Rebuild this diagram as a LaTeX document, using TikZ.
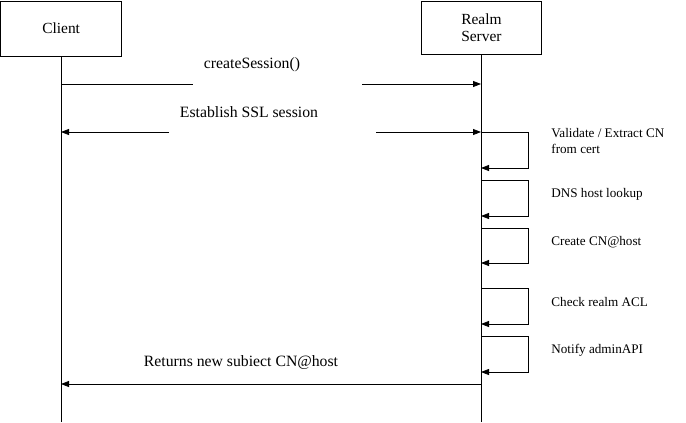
\documentclass[tikz,border=0pt]{standalone}
\usepackage{fontspec}
\setmainfont{Liberation Serif}
\usetikzlibrary{arrows.meta}

\begin{document}
\begin{tikzpicture}[x=1bp, y=-1bp, line width=0.8bp,
        node box/.style = {rectangle, draw, inner sep=0pt, anchor=north west, align=center, font=\fontsize{15.5}{17}\selectfont},
        msg line/.style = {-{Triangle[length=8bp, width=6bp]}},
        msg label/.style = {font=\fontsize{15.8}{18}\selectfont},
        step label/.style = {anchor=west, align=left, inner sep=0pt, font=\fontsize{13.2}{16}\selectfont},
        ]
        \useasboundingbox (0,0) rectangle (686,422);

        % Lifeline heads
        \node[node box, minimum width=120.5bp, minimum height=55.5bp] (client) at (0.5,0.5) {Client};
        \node[node box, minimum width=120bp, minimum height=53.5bp] (realm) at (421,0.5) {Realm\\Server};

        % Lifelines
        \coordinate (client end) at (61,422);
        \coordinate (realm end) at (481,422);
        \draw (client.south -| client end) -- (client end);
        \draw (realm.south -| realm end) -- (realm end);

        % createSession()
        \coordinate (C1) at (61,84);
        \coordinate (G1a) at (193,84);
        \coordinate (G1b) at (362,84);
        \coordinate (R1) at (481,84);
        \draw (C1) -- (G1a);
        \draw[msg line] (G1b) -- (R1);
        \node[msg label] (L1) at (252,65) {createSession()};

        % Establish SSL session
        \coordinate (C2) at (61,132);
        \coordinate (G2a) at (169,132);
        \coordinate (G2b) at (376,132);
        \coordinate (R2) at (481,132);
        \draw[msg line] (G2a) -- (C2);
        \draw[msg line] (G2b) -- (R2);
        \node[msg label] (L2) at (249,112) {Establish SSL session};

        % Self calls on the server
        \coordinate (S1a) at (481,132);
        \coordinate (S1b) at (481,168);
        \coordinate (S2a) at (481,180);
        \coordinate (S2b) at (481,216);
        \coordinate (S3a) at (481,228);
        \coordinate (S3b) at (481,263);
        \coordinate (S4a) at (481,288);
        \coordinate (S4b) at (481,324);
        \coordinate (S5a) at (481,336);
        \coordinate (S5b) at (481,372);
        \draw[msg line] (S1a) -- ++(47,0) |- (S1b);
        \draw[msg line] (S2a) -- ++(47,0) |- (S2b);
        \draw[msg line] (S3a) -- ++(47,0) |- (S3b);
        \draw[msg line] (S4a) -- ++(47,0) |- (S4b);
        \draw[msg line] (S5a) -- ++(47,0) |- (S5b);
        \node[step label] (T1) at (551,141) {Validate / Extract CN\\from cert};
        \node[step label] (T2) at (551,194) {DNS host lookup};
        \node[step label] (T3) at (551,242) {Create CN@host};
        \node[step label] (T4) at (551,302) {Check realm ACL};
        \node[step label] (T5) at (551,350) {Notify adminAPI};

        % Returns new subject
        \coordinate (C3) at (61,384);
        \coordinate (R3) at (481,384);
        \draw[msg line] (R3) -- (C3);
        \node[msg label] (L3) at (241,363) {Returns new subiect CN@host};
    \end{tikzpicture}
\end{document}
